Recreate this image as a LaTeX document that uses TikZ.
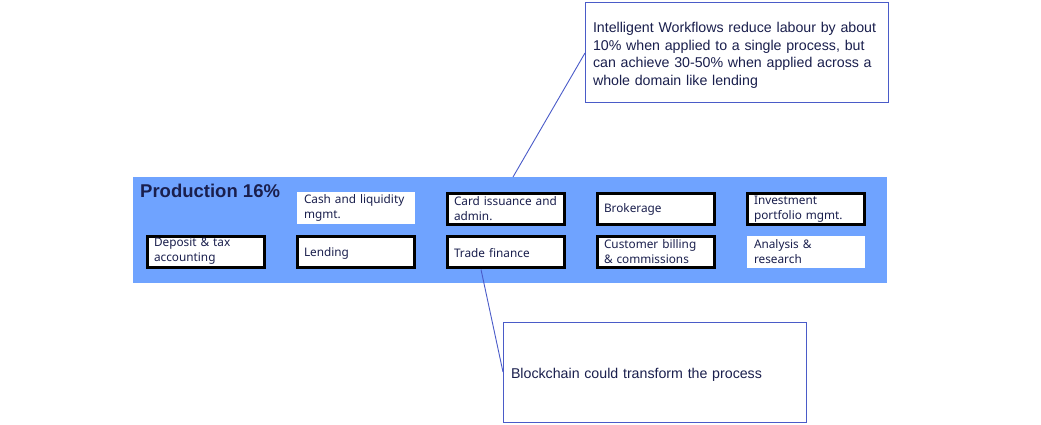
\documentclass[tikz,border=0pt]{standalone}
\usepackage{fontspec}
\setmainfont{Noto Sans}
\newfontfamily\arialfont{Liberation Sans}
\newfontfamily\titlefont{Liberation Sans}
\definecolor{bandblue}{HTML}{6FA3FF}
\definecolor{navy}{HTML}{1A1F4D}
\definecolor{callblue}{HTML}{4A5BC8}
\tikzset{
  bx/.style={draw=black, line width=3pt, fill=white, outer sep=0pt, inner xsep=6.5pt, inner ysep=0pt,
    minimum width=117pt, minimum height=31pt, anchor=north west, text width=104pt, align=left,
    font=\fontsize{11.8}{15}\selectfont, text=navy},
  wb/.style={draw=none, fill=white, outer sep=0pt, inner xsep=7pt, inner ysep=0pt,
    minimum width=118pt, minimum height=32pt, anchor=north west, text width=104pt, align=left,
    font=\fontsize{11.8}{15}\selectfont, text=navy},
  callout/.style={draw=callblue, line width=0.9pt, fill=white, outer sep=0pt, inner xsep=7.5pt,
    anchor=north west, align=left, text=navy, text width=287pt, font=\arialfont\fontsize{14.2}{17.4}\selectfont},
  link/.style={draw=callblue, line width=0.9pt}
}
\begin{document}
\begin{tikzpicture}[x=1pt,y=-1pt]
\useasboundingbox (0,0) rectangle (1041,424);
\node[fill=bandblue, minimum width=754pt, minimum height=106pt, anchor=north west, outer sep=0pt, inner sep=0pt] (band) at (133,177) {};
\node[anchor=west, inner sep=0pt, text=navy, font=\titlefont\bfseries\fontsize{18.5}{21}\selectfont] (title) at (140,191) {Production 16\%};
% row 1
\node[wb] (cash) at (297,192) {Cash and liquidity\\mgmt.};
\node[bx] (card) at (447.5,193.5) {Card issuance and\\admin.};
\node[bx] (brok) at (597.5,193.5) {Brokerage};
\node[bx] (inv) at (747.5,193.5) {Investment\\portfolio mgmt.};
% row 2
\node[bx] (dep) at (147.5,236) {Deposit \& tax\\accounting};
\node[bx] (lend) at (297.5,236.5) {\rule{0pt}{11pt}Lending};
\node[bx] (trade) at (447.5,236.5) {\rule{0pt}{11pt}Trade finance};
\node[bx] (cust) at (597.5,236) {Customer billing\\\& commissions};
\node[wb] (anal) at (747,236) {Analysis \&\\research};
% callouts
\node[callout, minimum width=303pt, minimum height=100pt] (c1) at (585,2) {\rule{0pt}{17pt}Intelligent Workflows reduce labour by about\\10\% when applied to a single process, but\\can achieve 30-50\% when applied across a\\whole domain like lending};
\node[callout, minimum width=303pt, minimum height=100pt] (c2) at (503,322) {\rule{0pt}{16pt}Blockchain could transform the process};
\coordinate (p1) at (513,177);
\coordinate (p2) at (585,53);
\draw[link] (p1) -- (p2);
\coordinate (p3) at (481,269.5);
\draw[link] (p3) -- (c2.west);
\end{tikzpicture}
\end{document}
